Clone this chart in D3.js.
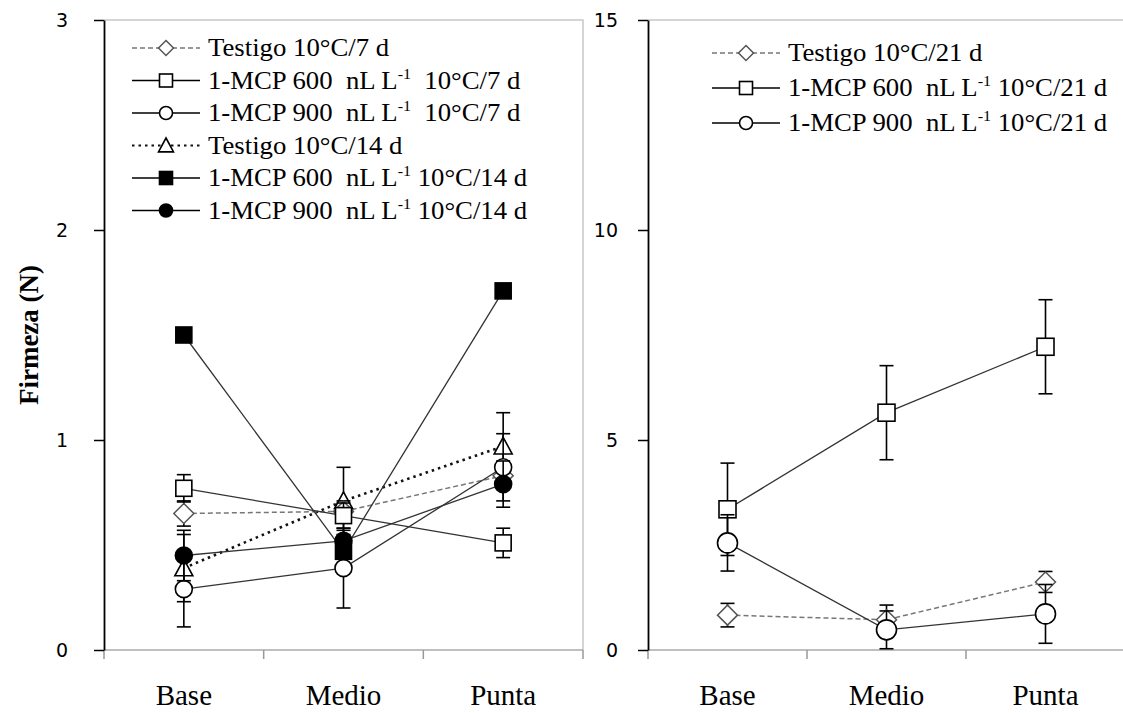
<!DOCTYPE html>
<html>
<head>
<meta charset="utf-8">
<script src="https://cdn.jsdelivr.net/npm/d3@7"></script>
<style>
  body { margin: 0; background: #fff; }
  text { font-family: "Liberation Serif", "Times New Roman", serif; fill: #000; }
  .ytick text { font-family: "DejaVu Sans", Verdana, sans-serif; font-size: 19px; }
</style>
</head>
<body>
<div id="chart"></div>
<script>
// categories (x axis)
const categories = ["Base", "Medio", "Punta"];

// left panel: 7 d and 14 d
const testigo7 = [0.65, 0.66, 0.83];
const testigo7Err = [0.06, 0.05, 0.05];
const mcp600_7 = [0.77, 0.64, 0.51];
const mcp600_7Err = [0.065, 0.06, 0.07];
const mcp900_7 = [0.29, 0.39, 0.87];
const mcp900_7Err = [0.18, 0.19, 0.16];
const testigo14 = [0.39, 0.71, 0.97];
const testigo14Err = [0.16, 0.16, 0.16];
const mcp600_14 = [1.50, 0.47, 1.71];
const mcp600_14Err = [0, 0, 0];
const mcp900_14 = [0.45, 0.52, 0.79];
const mcp900_14Err = [0.12, 0.05, 0.11];

// right panel: 21 d
const testigo21 = [0.83, 0.72, 1.62];
const testigo21Err = [0.28, 0.35, 0.25];
const mcp600_21 = [3.35, 5.65, 7.22];
const mcp600_21Err = [1.1, 1.12, 1.12];
const mcp900_21 = [2.55, 0.48, 0.86];
const mcp900_21Err = [0.67, 0.45, 0.7];

const leftTicks = [0, 1, 2, 3];
const rightTicks = [0, 5, 10, 15];

const W = 1123, H = 713;
const svg = d3.select("#chart").append("svg")
    .attr("width", W).attr("height", H);

// line styles per kind
const styles = {
    testigoA: {stroke: "#777", width: 1.5, dash: "5,3"},
    testigoB: {stroke: "#111", width: 2.6, dash: "2.5,4"},
    solid: {stroke: "#333", width: 1.3, dash: null}
};

function marker(g, shape, fill, size) {
    if (shape == "square") {
        g.append("rect").attr("x", -size/2).attr("y", -size/2)
            .attr("width", size).attr("height", size)
            .attr("fill", fill).attr("stroke", "#000").attr("stroke-width", 1.6);
        return;
    }
    if (shape == "circle") {
        g.append("circle").attr("r", size/2)
            .attr("fill", fill).attr("stroke", "#000").attr("stroke-width", 1.6);
        return;
    }
    if (shape == "diamond") {
        let s = size/2;
        g.append("path").attr("d", `M0,${-s}L${s},0L0,${s}L${-s},0Z`)
            .attr("fill", fill).attr("stroke", "#555").attr("stroke-width", 1.5);
        return;
    }
    if (shape == "triangle") {
        let s = size/2;
        g.append("path").attr("d", `M0,${-s}L${s},${s*0.85}L${-s},${s*0.85}Z`)
            .attr("fill", fill).attr("stroke", "#000").attr("stroke-width", 1.6);
    }
}

function drawPanel(opts) {
    const x = d3.scaleBand().domain(categories).range([opts.x0, opts.x1]).padding(0);
    const y = d3.scaleLinear().domain(opts.domain).range([650, 20]);
    const g = svg.append("g");

    // frame (top and right), light grey
    g.append("path")
        .attr("d", `M${opts.x0},${y.range()[1]}H${opts.x1}V${y.range()[0]}`)
        .attr("fill", "none").attr("stroke", "#c8c8c8").attr("stroke-width", 1.5);

    // x axis: grey line with ticks at the band boundaries
    g.append("line").attr("x1", opts.x0).attr("x2", opts.x1)
        .attr("y1", 650).attr("y2", 650)
        .attr("stroke", "#aaa").attr("stroke-width", 1.5);
    let bounds = categories.map(c => x(c)).concat([opts.x1]);
    g.selectAll(".xt").data(bounds).join("line")
        .attr("x1", d => d).attr("x2", d => d)
        .attr("y1", 650).attr("y2", 659)
        .attr("stroke", "#999").attr("stroke-width", 1.5);
    g.selectAll(".xl").data(categories).join("text")
        .attr("x", d => x(d) + x.bandwidth()/2)
        .attr("y", 705)
        .attr("text-anchor", "middle")
        .style("font-size", "29px")
        .text(d => d);

    // y axis
    const yAxis = g.append("g").attr("class", "ytick")
        .attr("transform", `translate(${opts.x0},0)`)
        .call(d3.axisLeft(y).tickValues(opts.ticks).tickFormat(d3.format("d"))
            .tickSize(10).tickPadding(opts.pad).tickSizeOuter(0));
    yAxis.select(".domain").attr("stroke", "#000").attr("stroke-width", 1.8);
    yAxis.selectAll(".tick line").attr("stroke", "#000").attr("stroke-width", 1.5);
    yAxis.selectAll("text").attr("fill", "#222").attr("dy", "0.35em");

    const cx = i => x(categories[i]) + x.bandwidth()/2;

    opts.series.forEach(s => {
        const st = styles[s.style];
        let line = d3.line().x((d, i) => cx(i)).y(d => y(d));
        g.append("path").datum(s.values)
            .attr("d", line)
            .attr("fill", "none")
            .attr("stroke", st.stroke)
            .attr("stroke-width", st.width)
            .attr("stroke-dasharray", st.dash);
    });

    opts.series.forEach(s => {
        const eg = g.append("g");
        s.values.forEach((v, i) => {
            let e = s.err[i];
            if (!e) return;
            let px = cx(i);
            eg.append("line").attr("x1", px).attr("x2", px)
                .attr("y1", y(v - e)).attr("y2", y(v + e))
                .attr("stroke", "#000").attr("stroke-width", 1.6);
            [v - e, v + e].forEach(t => {
                eg.append("line").attr("x1", px - 7).attr("x2", px + 7)
                    .attr("y1", y(t)).attr("y2", y(t))
                    .attr("stroke", "#000").attr("stroke-width", 1.6);
            });
        });
        s.values.forEach((v, i) => {
            let mg = g.append("g").attr("transform", `translate(${cx(i)},${y(v)})`);
            marker(mg, s.shape, s.fill, s.size);
        });
    });

    // legend
    const lg = g.append("g");
    opts.legend.forEach((s, i) => {
        let ly = opts.ly + i * opts.lstep;
        const st = styles[s.style];
        lg.append("line").attr("x1", opts.lx).attr("x2", opts.lx + opts.llen)
            .attr("y1", ly).attr("y2", ly)
            .attr("stroke", s.style == "solid" ? "#000" : st.stroke)
            .attr("stroke-width", s.style == "testigoB" ? 2.2 : 1.4)
            .attr("stroke-dasharray", st.dash);
        let mg = lg.append("g").attr("transform", `translate(${opts.lx + opts.llen/2},${ly})`);
        marker(mg, s.shape, s.fill, s.lsize);
        // the original text is a bit wider than Liberation Serif, so stretch it slightly
        let t = lg.append("text")
            .attr("transform", `translate(${opts.lx + opts.llen + 8},${ly + 8}) scale(${opts.sx},1)`)
            .style("font-size", "25px")
            .style("white-space", "pre");
        if (s.sup) {
            t.append("tspan").text(s.label[0]);
            t.append("tspan").attr("dy", -10).style("font-size", "15px").text("-1");
            t.append("tspan").attr("dy", 10).text(s.label[1]);
        } else {
            t.text(s.label);
        }
    });
}

const leftSeries = [
    {values: testigo14, err: testigo14Err, shape: "triangle", fill: "#fff", style: "testigoB", size: 18},
    {values: testigo7, err: testigo7Err, shape: "diamond", fill: "#fff", style: "testigoA", size: 20},
    {values: mcp900_7, err: mcp900_7Err, shape: "circle", fill: "#fff", style: "solid", size: 17},
    {values: mcp600_7, err: mcp600_7Err, shape: "square", fill: "#fff", style: "solid", size: 16},
    {values: mcp600_14, err: mcp600_14Err, shape: "square", fill: "#000", style: "solid", size: 16},
    {values: mcp900_14, err: mcp900_14Err, shape: "circle", fill: "#000", style: "solid", size: 17}
];
const leftLegend = [
    {shape: "diamond", fill: "#fff", style: "testigoA", lsize: 15, label: "Testigo 10°C/7 d"},
    {shape: "square", fill: "#fff", style: "solid", lsize: 13, sup: true, label: ["1-MCP 600  nL L", "  10°C/7 d"]},
    {shape: "circle", fill: "#fff", style: "solid", lsize: 13, sup: true, label: ["1-MCP 900  nL L", "  10°C/7 d"]},
    {shape: "triangle", fill: "#fff", style: "testigoB", lsize: 15, label: "Testigo 10°C/14 d"},
    {shape: "square", fill: "#000", style: "solid", lsize: 13, sup: true, label: ["1-MCP 600  nL L", " 10°C/14 d"]},
    {shape: "circle", fill: "#000", style: "solid", lsize: 13, sup: true, label: ["1-MCP 900  nL L", " 10°C/14 d"]}
];

drawPanel({
    x0: 104, x1: 583, domain: [0, 3], ticks: leftTicks, pad: 26,
    series: leftSeries, legend: leftLegend,
    lx: 132, llen: 68, ly: 48, lstep: 32.5, sx: 1.07
});

const rightSeries = [
    {values: testigo21, err: testigo21Err, shape: "diamond", fill: "#fff", style: "testigoA", size: 20},
    {values: mcp600_21, err: mcp600_21Err, shape: "square", fill: "#fff", style: "solid", size: 17},
    {values: mcp900_21, err: mcp900_21Err, shape: "circle", fill: "#fff", style: "solid", size: 20}
];
const rightLegend = [
    {shape: "diamond", fill: "#fff", style: "testigoA", lsize: 15, label: "Testigo 10°C/21 d"},
    {shape: "square", fill: "#fff", style: "solid", lsize: 13, sup: true, label: ["1-MCP 600  nL L", " 10°C/21 d"]},
    {shape: "circle", fill: "#fff", style: "solid", lsize: 13, sup: true, label: ["1-MCP 900  nL L", " 10°C/21 d"]}
];

drawPanel({
    x0: 648, x1: 1125, domain: [0, 15], ticks: rightTicks, pad: 20,
    series: rightSeries, legend: rightLegend,
    lx: 712, llen: 68, ly: 53, lstep: 35, sx: 1.07
});

// y axis title
svg.append("text")
    .attr("transform", "translate(38,335) rotate(-90)")
    .attr("text-anchor", "middle")
    .style("font-size", "27px")
    .style("font-weight", "bold")
    .text("Firmeza (N)");
</script>
</body>
</html>
